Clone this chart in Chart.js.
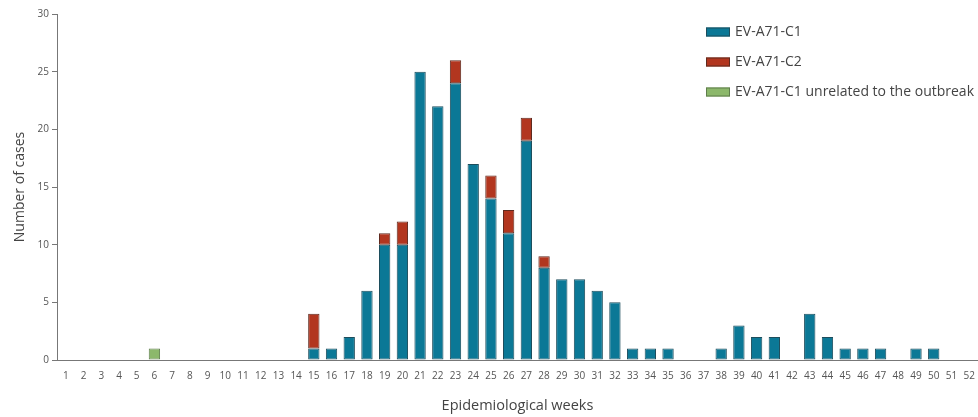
<!DOCTYPE html>
<html>
<head>
<meta charset="utf-8">
<script src="https://cdn.jsdelivr.net/npm/chart.js@4.4.1/dist/chart.umd.min.js"></script>
<style>
  html, body { margin: 0; padding: 0; background: #fff; }
  #wrap { width: 978px; height: 417px; position: relative; }
</style>
</head>
<body>
<div id="wrap"><canvas id="c"></canvas></div>
<script>
// Epidemiological weeks 1..52
const weeks = Array.from({ length: 52 }, (_, i) => String(i + 1));

// Cases per week, by week number
const c1Cases = {
  15: 1, 16: 1, 17: 2, 18: 6, 19: 10, 20: 10, 21: 25, 22: 22, 23: 24, 24: 17,
  25: 14, 26: 11, 27: 19, 28: 8, 29: 7, 30: 7, 31: 6, 32: 5, 33: 1, 34: 1,
  35: 1, 38: 1, 39: 3, 40: 2, 41: 2, 43: 4, 44: 2, 45: 1, 46: 1, 47: 1,
  49: 1, 50: 1
};
const c2Cases = { 15: 3, 19: 1, 20: 2, 23: 2, 25: 2, 26: 2, 27: 2, 28: 1 };
const unrelatedCases = { 6: 1 };

const seriesLabels = ['EV-A71-C1', 'EV-A71-C2', 'EV-A71-C1 unrelated to the outbreak'];
const seriesColors = ['#0b7896', '#b2361f', '#8cb86b'];
const seriesBorders = ['#1d4d5c', '#5e2a1f', '#5f7d4c'];
const yTicks = [0, 5, 10, 15, 20, 25, 30];

const toSeries = (m) => weeks.map(w => (m[w] !== undefined ? m[w] : null));

const legendPlugin = {
  id: 'sideLegend',
  afterDraw(chart) {
    const ctx = chart.ctx;
    ctx.save();
    ctx.font = '14px "Open Sans", sans-serif';
    ctx.textBaseline = 'middle';
    chart.data.datasets.forEach((ds, i) => {
      const y = 32 + i * 30;
      const x = 706;
      ctx.fillStyle = ds.backgroundColor;
      ctx.fillRect(x, y - 4.5, 24, 9);
      ctx.strokeStyle = ds.borderColor;
      ctx.lineWidth = 1;
      ctx.strokeRect(x + 0.5, y - 4, 23, 8);
      ctx.fillStyle = '#444';
      ctx.fillText(ds.label, x + 29, y);
    });
    ctx.restore();
  }
};

new Chart(document.getElementById('c'), {
  type: 'bar',
  data: {
    labels: weeks,
    datasets: [c1Cases, c2Cases, unrelatedCases].map((m, i) => ({
      label: seriesLabels[i],
      data: toSeries(m),
      backgroundColor: seriesColors[i],
      borderColor: seriesBorders[i],
      borderWidth: 1,
      borderSkipped: false,
      barPercentage: 0.64,
      categoryPercentage: 1.0
    }))
  },
  options: {
    responsive: true,
    maintainAspectRatio: false,
    animation: false,
    layout: { padding: { top: 14, right: 0, left: 0, bottom: 0 } },
    plugins: {
      legend: { display: false },
      tooltip: { enabled: false }
    },
    scales: {
      x: {
        stacked: true,
        grid: { display: false, drawTicks: false },
        border: { display: true, color: '#777', width: 1 },
        ticks: {
          color: '#555',
          font: { family: '"Open Sans", sans-serif', size: 10 },
          padding: 10,
          maxRotation: 0,
          autoSkip: false
        },
        title: {
          display: true,
          text: 'Epidemiological weeks',
          color: '#444',
          font: { family: '"Open Sans", sans-serif', size: 14.5 },
          padding: { top: 0, bottom: 2 }
        },
        afterFit(scale) {
          scale.height = 57;
          scale.paddingLeft = 0;
          scale.paddingRight = 0;
        }
      },
      y: {
        stacked: true,
        min: 0,
        max: 30,
        afterBuildTicks(scale) { scale.ticks = yTicks.map(v => ({ value: v })); },
        grid: { drawOnChartArea: false, drawTicks: true, tickLength: 5, color: '#777' },
        border: { display: true, color: '#777', width: 1 },
        ticks: {
          color: '#555',
          font: { family: '"Open Sans", sans-serif', size: 10 },
          padding: 3
        },
        title: {
          display: true,
          text: 'Number of cases',
          color: '#444',
          font: { family: '"Open Sans", sans-serif', size: 14 },
          padding: { top: 12, bottom: 0 }
        },
        afterFit(scale) { scale.width = 57; }
      }
    }
  },
  plugins: [legendPlugin]
});
</script>
</body>
</html>
